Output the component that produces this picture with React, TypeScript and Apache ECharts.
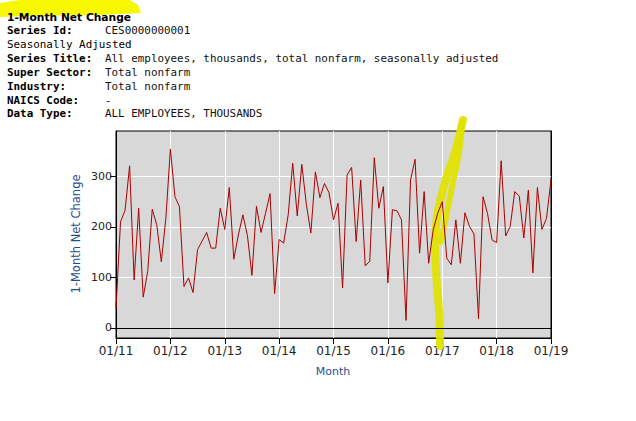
import React, { useEffect, useRef } from "react";
import * as echarts from "echarts";

const startYear = 2011;
const monthCount = 97;
const months: string[] = Array.from({ length: monthCount }, (_, i) => {
  const m = (i % 12) + 1;
  const y = (startYear + Math.floor(i / 12)) % 100;
  return `${String(m).padStart(2, "0")}/${String(y).padStart(2, "0")}`;
});

const netChange: number[] = [
  39, 210, 233, 321, 95, 237, 61, 112, 235, 204, 131, 217,
  354, 260, 240, 82, 99, 70, 155, 172, 189, 158, 158, 237,
  195, 278, 136, 184, 224, 183, 104, 241, 189, 227, 266, 68,
  175, 168, 224, 326, 222, 324, 245, 188, 309, 258, 286, 268,
  214, 247, 79, 303, 318, 171, 293, 123, 132, 337, 237, 280,
  89, 234, 232, 214, 15, 293, 334, 148, 270, 128, 194, 227,
  250, 138, 125, 214, 128, 228, 201, 186, 18, 260, 226, 174,
  169, 331, 182, 201, 270, 261, 178, 273, 109, 278, 195, 217,
  293,
];

const yTicks = [0, 100, 200, 300];

const titleText = "1-Month Net Change";
const headerLabels = ["Series Id:", "Seasonally Adjusted", "Series Title:", "Super Sector:", "Industry:", "NAICS Code:", "Data Type:"];
const headerBold = [true, false, true, true, true, true, true];
const headerValues = [
  "CES0000000001",
  "",
  "All employees, thousands, total nonfarm, seasonally adjusted",
  "Total nonfarm",
  "Total nonfarm",
  "-",
  "ALL EMPLOYEES, THOUSANDS",
];

export default function App() {
  const ref = useRef<HTMLDivElement>(null);
  useEffect(() => {
    if (!ref.current) return;
    const chart = echarts.init(ref.current, undefined, { renderer: "svg" });
    const mono = "'DejaVu Sans Mono', monospace";
    const sans = "'DejaVu Sans', Verdana, sans-serif";
    const graphics: any[] = [];
    graphics.push({
      type: "polygon",
      z: 0,
      shape: { points: [[0, 3], [20, 0], [130, 0], [138, 5], [141, 13], [100, 15], [30, 16], [0, 17]] },
      style: { fill: "#f7f700" },
    });
    graphics.push({
      type: "text",
      z: 1,
      x: 7,
      y: 17,
      style: { text: titleText, font: `bold 10.7px ${sans}`, fill: "#000", verticalAlign: "middle" },
    });
    headerLabels.forEach((lab, i) => {
      const y = 30.5 + i * 13.9;
      graphics.push({
        type: "text",
        z: 1,
        x: 7,
        y,
        style: { text: lab, font: `${headerBold[i] ? "bold " : ""}10.9px ${mono}`, fill: "#000", verticalAlign: "middle" },
      });
      if (headerValues[i]) {
        graphics.push({
          type: "text",
          z: 1,
          x: 105,
          y,
          style: { text: headerValues[i], font: `10.9px ${mono}`, fill: "#111", verticalAlign: "middle" },
        });
      }
    });
    graphics.push({
      type: "text",
      z: 1,
      x: 76,
      y: 234,
      rotation: Math.PI / 2,
      style: { text: "1-Month Net Change", font: `11.5px ${sans}`, fill: "#1f4f8f", align: "center", verticalAlign: "middle" },
    });
    graphics.push({
      type: "text",
      z: 1,
      x: 333,
      y: 371,
      style: { text: "Month", font: `11px ${sans}`, fill: "#1f4f8f", align: "center", verticalAlign: "middle" },
    });
    graphics.push({
      type: "polyline",
      z: 1,
      shape: { points: [[463, 120], [455, 152], [444, 186], [436, 225], [436, 270], [439, 310], [440, 346]], smooth: 0.5 },
      style: { stroke: "#e2e200", lineWidth: 8, opacity: 0.92, lineCap: "round", fill: null },
    });
    graphics.push({
      type: "polyline",
      z: 1,
      shape: { points: [[462, 123], [459, 152], [453, 182], [447, 212], [441, 242]], smooth: 0.5 },
      style: { stroke: "#e2e200", lineWidth: 6, opacity: 0.92, lineCap: "round", fill: null },
    });

    chart.setOption({
      animation: false,
      backgroundColor: "#fff",
      grid: {
        left: 116,
        top: 131,
        width: 435,
        height: 207,
        show: true,
        backgroundColor: "#d8d8d8",
        borderColor: "#000",
        borderWidth: 1,
        containLabel: false,
      },
      xAxis: {
        type: "category",
        data: months,
        boundaryGap: false,
        axisLine: { onZero: false, lineStyle: { color: "#000", width: 1 } },
        axisTick: { show: true, interval: 11, length: 6, lineStyle: { color: "#000" } },
        axisLabel: {
          interval: 11,
          color: "#222",
          fontSize: 12,
          fontFamily: sans,
          margin: 7,
        },
        splitLine: { show: true, interval: 11, lineStyle: { color: "#fff", width: 1 } },
      },
      yAxis: [
        {
          type: "value",
          min: -20,
          max: 390,
          axisLine: { show: true, lineStyle: { color: "#000" } },
          axisTick: { show: true, customValues: yTicks, length: 6, lineStyle: { color: "#000" } },
          axisLabel: { customValues: yTicks, color: "#222", fontSize: 11, fontFamily: sans, margin: 4 },
          splitLine: { show: true, lineStyle: { color: "#fff", width: 1 } },
        },
        {
          type: "value",
          position: "right",
          min: -20,
          max: 390,
          axisLine: { show: true, lineStyle: { color: "#000" } },
          axisTick: { show: false },
          axisLabel: { show: false },
          splitLine: { show: false },
        },
      ],
      series: [
        {
          type: "line",
          data: netChange,
          showSymbol: false,
          symbol: "none",
          lineStyle: { color: "#a80000", width: 1 },
          itemStyle: { color: "#a80000" },
          markLine: {
            silent: true,
            symbol: "none",
            label: { show: false },
            lineStyle: { color: "#000", type: "solid", width: 1 },
            data: [{ yAxis: 0 }],
          },
        },
      ],
      graphic: graphics,
    });
    return () => chart.dispose();
  }, []);
  return <div ref={ref} style={{ position: "fixed", left: 0, top: 0, width: 636, height: 421 }} />;
}
